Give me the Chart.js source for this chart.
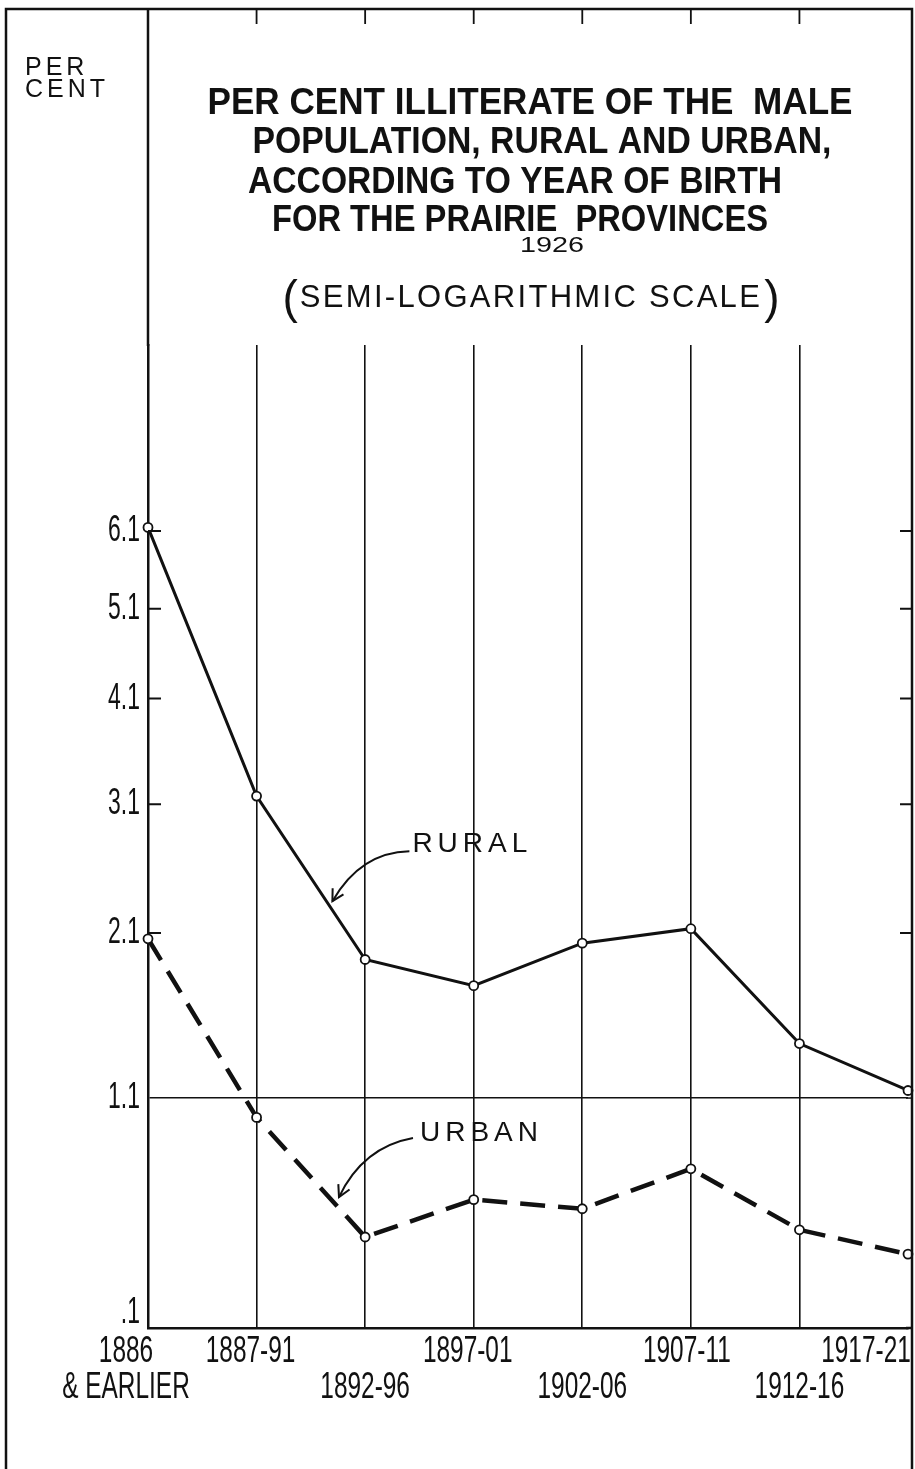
<!DOCTYPE html>
<html><head><meta charset="utf-8">
<script src="https://cdn.jsdelivr.net/npm/chart.js@4/dist/chart.umd.min.js"></script>
<style>html,body{margin:0;padding:0;background:#fff;}canvas{display:block;}</style>
</head><body>
<canvas id="c" width="915" height="1469"></canvas>
<script>
// ---------------- DATA ----------------
const categories = [['1886', '& EARLIER'], '1887-91', ['', '1892-96'], '1897-01', ['', '1902-06'], '1907-11', ['', '1912-16'], '1917-21'];
const ruralValues = [6.15, 3.17, 1.92, 1.75, 2.03, 2.13, 1.40, 1.14];
const urbanValues = [2.06, 1.00, 0.45, 0.61, 0.57, 0.75, 0.48, 0.38];
const yTickValues = [0.1, 1.1, 2.1, 3.1, 4.1, 5.1, 6.1];
const yTickLabels = ['.1', '1.1', '2.1', '3.1', '4.1', '5.1', '6.1'];
const titleLines = ['PER CENT ILLITERATE OF THE  MALE', 'POPULATION, RURAL AND URBAN,', 'ACCORDING TO YEAR OF BIRTH', 'FOR THE PRAIRIE  PROVINCES'];
const titleYear = '1926';
const subtitle = 'SEMI-LOGARITHMIC SCALE';
const axisLabel = ['PER', 'CENT'];
const seriesNames = ['RURAL', 'URBAN'];

// ------------- custom scales -------------
const LinearScale = Chart.LinearScale || Chart.scales.LinearScale;
const CategoryScale = Chart.CategoryScale || Chart.scales.CategoryScale;

// draws the scale's own label items, condensed horizontally (hand-lettered narrow figures)
function drawCondensedLabels(scale, chartArea) {
  if (!scale.options.ticks.display) return;
  const ctx = scale.ctx;
  const sx = scale.options.labelScaleX || 1;
  const items = scale.getLabelItems(chartArea);
  for (const item of items) {
    const o = item.options;
    ctx.save();
    ctx.translate(o.translation[0], o.translation[1]);
    if (o.rotation) ctx.rotate(o.rotation);
    ctx.scale(sx, 1);
    Chart.helpers.renderText(ctx, item.label, 0, item.textOffset, item.font,
      Object.assign({}, o, { translation: null, rotation: null }));
    ctx.restore();
  }
}

class ShiftedLogScale extends LinearScale {
  configure() {
    super.configure();
    const s = this.options.shift || 0;
    this._lgStart = Math.log10(this.min + s);
    this._lgRange = Math.log10(this.max + s) - this._lgStart;
  }
  getPixelForValue(value) {
    if (value === null || value === undefined || isNaN(value)) return NaN;
    const s = this.options.shift || 0;
    return this.getPixelForDecimal((Math.log10(value + s) - this._lgStart) / this._lgRange);
  }
  getValueForPixel(pixel) {
    const s = this.options.shift || 0;
    return Math.pow(10, this._lgStart + this.getDecimalForPixel(pixel) * this._lgRange) - s;
  }
  drawLabels(chartArea) { drawCondensedLabels(this, chartArea); }
}
ShiftedLogScale.id = 'shiftedLog';
ShiftedLogScale.defaults = LinearScale.defaults;

class ShiftedCategoryScale extends CategoryScale {
  _computeLabelItems(chartArea) {
    const items = super._computeLabelItems(chartArea);
    const shifts = this.options.labelShift || [];
    items.forEach((it, i) => {
      const d = shifts[i] || 0;
      if (d && it.options && it.options.translation) it.options.translation[0] += d;
    });
    return items;
  }
  drawLabels(chartArea) { drawCondensedLabels(this, chartArea); }
}
ShiftedCategoryScale.id = 'shiftedCategory';
ShiftedCategoryScale.defaults = CategoryScale.defaults;
Chart.register(ShiftedLogScale, ShiftedCategoryScale);

const INK = '#111';
const SANS = "'Liberation Sans', Arial, 'DejaVu Sans', sans-serif";

function textSpaced(ctx, str, x, y, spacing) {
  if ('letterSpacing' in ctx) { ctx.letterSpacing = spacing + 'px'; ctx.fillText(str, x, y); ctx.letterSpacing = '0px'; }
  else ctx.fillText(str, x, y);
}
function textFit(ctx, str, cx, y, width) {
  const w = ctx.measureText(str).width;
  ctx.save(); ctx.translate(cx, y); ctx.scale(width / w, 1);
  ctx.textAlign = 'center'; ctx.fillText(str, 0, 0); ctx.restore();
}

function arrow(ctx, x0, y0, cx, cy, tx, ty) {
  ctx.beginPath(); ctx.moveTo(x0, y0); ctx.quadraticCurveTo(cx, cy, tx, ty); ctx.stroke();
  const a = Math.atan2(ty - cy, tx - cx);
  const L = 13, w = 0.5;
  ctx.beginPath();
  ctx.moveTo(tx - L * Math.cos(a - w), ty - L * Math.sin(a - w)); ctx.lineTo(tx, ty);
  ctx.lineTo(tx - L * Math.cos(a + w), ty - L * Math.sin(a + w));
  ctx.stroke();
}

function segPoint(x, y, values, i, t) {
  const x0 = x.getPixelForValue(i), x1 = x.getPixelForValue(i + 1);
  const y0 = y.getPixelForValue(values[i]), y1 = y.getPixelForValue(values[i + 1]);
  return [x0 + (x1 - x0) * t, y0 + (y1 - y0) * t];
}

const decor = {
  id: 'decor',
  beforeDraw(chart) {
    const ctx = chart.ctx; ctx.save(); ctx.fillStyle = '#fff'; ctx.fillRect(0, 0, chart.width, chart.height); ctx.restore();
  },
  afterDraw(chart) {
    const { ctx, chartArea: ca, scales: { x, y } } = chart;
    const frameTop = 9, frameLeft = 6, frameRight = ca.right + 4;
    ctx.save();
    ctx.strokeStyle = INK; ctx.fillStyle = INK; ctx.lineCap = 'butt';
    ctx.lineWidth = 2.5;
    ctx.beginPath();
    ctx.moveTo(frameLeft, chart.height); ctx.lineTo(frameLeft, frameTop);
    ctx.lineTo(frameRight, frameTop); ctx.lineTo(frameRight, chart.height);
    ctx.stroke();
    ctx.beginPath(); ctx.moveTo(ca.left, frameTop); ctx.lineTo(ca.left, ca.top + 1); ctx.stroke();
    ctx.beginPath(); ctx.moveTo(ca.right - 2, ca.bottom); ctx.lineTo(frameRight, ca.bottom); ctx.stroke();
    // top ticks
    ctx.lineWidth = 1.8;
    ctx.beginPath();
    for (let i = 1; i < categories.length - 1; i++) {
      const px = x.getPixelForValue(i);
      ctx.moveTo(px, frameTop); ctx.lineTo(px, frameTop + 15);
    }
    ctx.stroke();
    // inner y ticks on both sides
    ctx.lineWidth = 2;
    ctx.beginPath();
    yTickValues.forEach(v => {
      if (v < 2) return;
      const py = y.getPixelForValue(v);
      ctx.moveTo(ca.left, py); ctx.lineTo(ca.left + 13, py);
      ctx.moveTo(frameRight - 12, py); ctx.lineTo(frameRight, py);
    });
    ctx.stroke();
    ctx.lineWidth = 1.5;
    const p11 = y.getPixelForValue(1.1);
    ctx.beginPath(); ctx.moveTo(ca.right - 2, p11); ctx.lineTo(frameRight, p11); ctx.stroke();

    // PER CENT
    ctx.textAlign = 'left'; ctx.textBaseline = 'alphabetic';
    ctx.font = '25px ' + SANS;
    textSpaced(ctx, axisLabel[0], 25, 75, 4);
    textSpaced(ctx, axisLabel[1], 25, 97, 4);

    // Title
    ctx.font = 'bold 36px ' + SANS;
    const tPos = [[530, 114, 645], [542, 153, 579], [515, 193, 534], [520, 231, 496]];
    titleLines.forEach((s, i) => textFit(ctx, s, tPos[i][0], tPos[i][1], tPos[i][2]));
    ctx.font = '22px ' + SANS;
    textFit(ctx, titleYear, 552, 252, 64);
    // subtitle with tall parentheses
    ctx.textAlign = 'center';
    ctx.font = '31px ' + SANS;
    textSpaced(ctx, subtitle, 531, 307, 2.3);
    const w = ctx.measureText(subtitle).width + ('letterSpacing' in ctx ? 2.3 * subtitle.length : 0);
    ctx.font = '46px ' + SANS;
    ctx.textAlign = 'right'; ctx.fillText('(', 531 - w / 2 - 2, 313);
    ctx.textAlign = 'left'; ctx.fillText(')', 531 + w / 2 + 2, 313);

    // series labels + arrows
    ctx.font = '28px ' + SANS;
    ctx.textAlign = 'left';
    ctx.lineWidth = 2;
    let tip = segPoint(x, y, ruralValues, 1, 0.68);
    textSpaced(ctx, seriesNames[0], tip[0] + 82, tip[1] - 55, 5);
    arrow(ctx, tip[0] + 79, tip[1] - 56, tip[0] + 30, tip[1] - 55, tip[0] + 2, tip[1] - 6);
    tip = segPoint(x, y, urbanValues, 1, 0.75);
    textSpaced(ctx, seriesNames[1], tip[0] + 82, tip[1] - 66, 5);
    arrow(ctx, tip[0] + 75, tip[1] - 69, tip[0] + 25, tip[1] - 60, tip[0] + 1, tip[1] - 10);
    ctx.restore();
  }
};

const pointStyle = { pointRadius: 4.5, pointHoverRadius: 4.5, pointBackgroundColor: '#fff', pointBorderColor: INK, pointBorderWidth: 1.8 };

new Chart(document.getElementById('c'), {
  type: 'line',
  data: {
    labels: categories,
    datasets: [
      Object.assign({ label: seriesNames[0], data: ruralValues, borderColor: INK, borderWidth: 3, tension: 0, clip: false }, pointStyle),
      Object.assign({ label: seriesNames[1], data: urbanValues, borderColor: INK, borderWidth: 4.5, borderDash: [25, 13], tension: 0, clip: false }, pointStyle)
    ]
  },
  plugins: [decor],
  options: {
    responsive: false,
    animation: false,
    devicePixelRatio: 1,
    layout: { padding: { top: 345, left: 0, right: 7, bottom: 0 } },
    plugins: { legend: { display: false }, title: { display: false }, tooltip: { enabled: false } },
    scales: {
      x: {
        type: 'shiftedCategory',
        offset: false,
        labelShift: [-22, -6, 0, -6, 0, -4, 0, -42],
        labelScaleX: 0.66,
        grid: {
          drawTicks: false, lineWidth: 1.6,
          color: c => (c.index === 0 || c.index === categories.length - 1) ? 'rgba(0,0,0,0)' : INK
        },
        border: { display: true, color: INK, width: 2.5 },
        ticks: { autoSkip: false, maxRotation: 0, minRotation: 0, padding: 6, color: INK,
                 font: { family: SANS, size: 37, lineHeight: 0.97 } },
        afterFit: s => { s.height = 141; s.paddingLeft = 0; s.paddingRight = 0; }
      },
      y: {
        type: 'shiftedLog',
        shift: 2,
        min: 0.1, max: 9.1,
        bounds: 'data',
        labelScaleX: 0.62,
        afterBuildTicks: s => { s.ticks = yTickValues.map(v => ({ value: v })); },
        grid: {
          drawTicks: false, lineWidth: 1.5,
          color: c => (c.tick && c.tick.value === 1.1) ? INK : 'rgba(0,0,0,0)'
        },
        border: { display: true, color: INK, width: 2.5 },
        ticks: {
          padding: 8, color: INK,
          font: { family: SANS, size: 37, lineHeight: 0.8 },
          callback: (value) => {
            const i = yTickValues.indexOf(value);
            const lbl = i >= 0 ? yTickLabels[i] : '';
            return i === 0 ? [lbl, ''] : lbl;
          }
        },
        afterFit: s => { s.width = 148; s.paddingTop = 0; s.paddingBottom = 0; }
      }
    }
  }
});
</script>
</body></html>
